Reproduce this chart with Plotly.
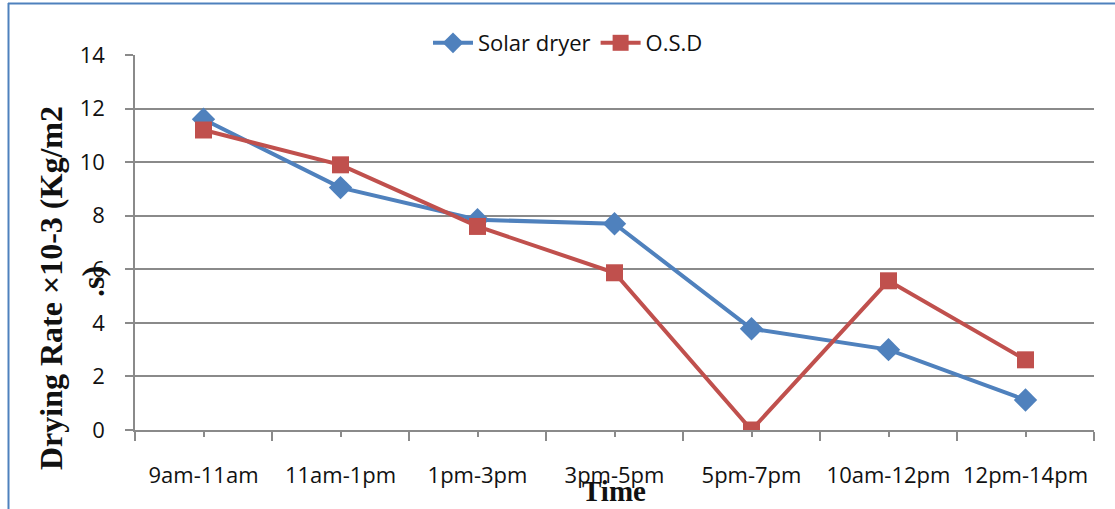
import plotly.graph_objects as go

# Drying rate per time period (×10-3 kg/m2·s)
periods = ["9am-11am", "11am-1pm", "1pm-3pm", "3pm-5pm", "5pm-7pm", "10am-12pm", "12pm-14pm"]
solar_dryer = [11.6, 9.05, 7.85, 7.7, 3.78, 3.0, 1.12]
osd = [11.2, 9.9, 7.6, 5.87, 0.0, 5.57, 2.62]
y_ticks = [0, 2, 4, 6, 8, 10, 12, 14]

W, H = 1115, 509
L, R, T, B = 135, 21, 55, 79
plot_w = W - L - R
plot_h = H - T - B


def px_x(p):
    return (p - L) / plot_w


def px_y(p):
    return (H - B - p) / plot_h


idx = list(range(len(periods)))
grid = "#8a8a8a"
sans = "'Open Sans', Lato, sans-serif"
serif = "'Liberation Serif', 'Times New Roman', serif"
label_font = dict(family=sans, size=22, color="#111111")

fig = go.Figure()
fig.add_trace(go.Scatter(
    x=idx, y=solar_dryer, name="Solar dryer", mode="lines+markers",
    line=dict(color="#4F81BD", width=4),
    marker=dict(symbol="diamond", size=18, color="#4F81BD"),
))
fig.add_trace(go.Scatter(
    x=idx, y=osd, name="O.S.D", mode="lines+markers",
    line=dict(color="#C0504D", width=4),
    marker=dict(symbol="square", size=17, color="#C0504D"),
))

fig.update_layout(
    width=W, height=H,
    margin=dict(l=L, r=R, t=T, b=B, pad=0),
    paper_bgcolor="white", plot_bgcolor="white",
    font=label_font,
    showlegend=True,
    legend=dict(
        orientation="h", x=px_x(568), y=px_y(43), xanchor="center", yanchor="middle",
        font=dict(family=sans, size=22, color="#111111"),
        bgcolor="rgba(0,0,0,0)", itemwidth=40, tracegroupgap=0,
    ),
    xaxis=dict(
        range=[-0.5, len(periods) - 0.5],
        tickmode="array", tickvals=idx, ticktext=periods,
        ticks="outside", ticklen=5, tickwidth=1.5, tickcolor=grid,
        minor=dict(tickmode="array", tickvals=[i - 0.5 for i in range(len(periods) + 1)],
                   ticks="outside", ticklen=9, tickwidth=1.5, tickcolor=grid, showgrid=False),
        showline=True, linecolor=grid, linewidth=1.5,
        showgrid=False, zeroline=False, ticklabelstandoff=20,
    ),
    yaxis=dict(
        range=[0, 14], tickmode="array", tickvals=y_ticks,
        ticks="outside", ticklen=8, tickwidth=1.5, tickcolor=grid,
        showline=True, linecolor=grid, linewidth=1.5,
        showgrid=True, gridcolor=grid, gridwidth=1.5,
        zeroline=False, ticklabelstandoff=16,
    ),
)

# Axis titles
title_font = dict(family=serif, size=32, color="#111111")
fig.add_annotation(
    text="<b>Drying Rate ×10-3 (Kg/m2</b>", textangle=-90,
    xref="paper", yref="paper", x=px_x(51), y=px_y(288),
    xanchor="center", yanchor="middle", showarrow=False, font=title_font,
)
fig.add_annotation(
    text="<b>.s)</b>", textangle=-90,
    xref="paper", yref="paper", x=px_x(93), y=px_y(282),
    xanchor="center", yanchor="middle", showarrow=False, font=title_font,
)
fig.add_annotation(
    text="<b>Time</b>",
    xref="paper", yref="paper", x=px_x(614), y=px_y(491),
    xanchor="center", yanchor="middle", showarrow=False,
    font=dict(family=serif, size=29, color="#111111"),
)

# Chart frame along the top and left edges
frame = "#4F81BD"
fig.add_shape(type="line", xref="paper", yref="paper",
              x0=px_x(8), x1=px_x(W), y0=px_y(3.5), y1=px_y(3.5),
              line=dict(color=frame, width=2))
fig.add_shape(type="line", xref="paper", yref="paper",
              x0=px_x(8.5), x1=px_x(8.5), y0=px_y(3), y1=px_y(H),
              line=dict(color=frame, width=2))

fig.write_html("out.html")
